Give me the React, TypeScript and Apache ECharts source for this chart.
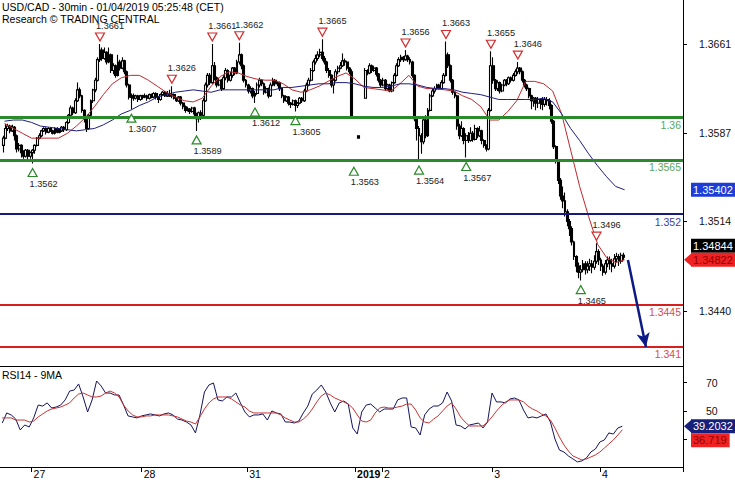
import React, { useEffect, useRef } from 'react';
import * as echarts from 'echarts';

const FONT = '"Liberation Sans", Arial, sans-serif';

// ---------- axes / time slots ----------
const SLOT_COUNT = 304; // half-hour slots spanning the plot width
const dayStartIndex = [14, 63, 110, 158, 170, 219, 267];
const dayLabels = ['27', '28', '31', '2019', '2', '3', '4'];
const boldLabels = ['2019'];
const priceTicks = [1.344, 1.3514, 1.3587, 1.3661];
const rsiTicks = [30, 50, 70];
const rsiTickLabels = [50, 70]; // 30 is hidden behind the value badges
const priceRange = [1.339424, 1.369742];
const rsiRange = [10.4, 81.8];

// ---------- 30-min candles [open, close, low, high] ----------
const candles: (number[] | null)[] = [
  null,
  [1.3577,1.3583,1.3571,1.3585],[1.3583,1.3591,1.3582,1.3595],[1.3591,1.3593,1.3589,1.3595],[1.3593,1.3589,1.3587,1.3594],
  [1.3589,1.3592,1.3588,1.3594],[1.3592,1.3585,1.3581,1.3593],[1.3585,1.3574,1.3571,1.3586],[1.3574,1.3577,1.3572,1.3579],
  [1.3577,1.3571,1.3567,1.3578],[1.3571,1.3568,1.3566,1.3573],[1.3568,1.3573,1.3567,1.3574],[1.3573,1.3568,1.3565,1.3574],
  [1.3568,1.3571,1.3566,1.3572],[1.3571,1.3573,1.3562,1.3574],[1.3573,1.3577,1.3570,1.3578],[1.3577,1.3583,1.3576,1.3584],
  [1.3583,1.3585,1.3582,1.3587],[1.3585,1.3589,1.3584,1.3590],[1.3589,1.3591,1.3588,1.3592],[1.3591,1.3588,1.3586,1.3592],
  [1.3588,1.3591,1.3587,1.3592],[1.3591,1.3589,1.3588,1.3592],[1.3589,1.3587,1.3586,1.3590],[1.3587,1.3591,1.3586,1.3592],
  [1.3591,1.3588,1.3587,1.3592],[1.3588,1.3589,1.3587,1.3591],[1.3589,1.3592,1.3588,1.3593],[1.3592,1.3590,1.3588,1.3593],
  [1.3590,1.3596,1.3589,1.3597],[1.3596,1.3602,1.3595,1.3603],[1.3602,1.3608,1.3601,1.3610],[1.3608,1.3604,1.3602,1.3609],
  [1.3604,1.3614,1.3603,1.3616],[1.3614,1.3623,1.3613,1.3629],[1.3623,1.3618,1.3616,1.3625],[1.3618,1.3606,1.3604,1.3619],
  [1.3606,1.3599,1.3596,1.3607],[1.3599,1.3591,1.3588,1.3600],[1.3591,1.3602,1.3590,1.3603],[1.3602,1.3614,1.3601,1.3615],
  [1.3614,1.3623,1.3612,1.3624],[1.3623,1.3631,1.3621,1.3633],[1.3631,1.3648,1.3630,1.3650],[1.3648,1.3656,1.3646,1.3661],
  [1.3656,1.3649,1.3647,1.3658],[1.3649,1.3654,1.3648,1.3658],[1.3654,1.3646,1.3644,1.3655],[1.3646,1.3652,1.3645,1.3658],
  [1.3652,1.3639,1.3637,1.3653],[1.3639,1.3643,1.3636,1.3645],[1.3643,1.3635,1.3633,1.3644],[1.3635,1.3646,1.3634,1.3652],
  [1.3646,1.3641,1.3639,1.3648],[1.3641,1.3647,1.3640,1.3650],[1.3647,1.3638,1.3636,1.3648],[1.3638,1.3627,1.3625,1.3639],
  [1.3627,1.3617,1.3615,1.3628],[1.3617,1.3618,1.3607,1.3620],[1.3618,1.3616,1.3614,1.3620],[1.3616,1.3618,1.3615,1.3619],
  [1.3618,1.3615,1.3613,1.3619],[1.3615,1.3618,1.3614,1.3619],[1.3618,1.3617,1.3615,1.3619],[1.3617,1.3618,1.3616,1.3620],
  [1.3618,1.3616,1.3614,1.3619],[1.3616,1.3619,1.3615,1.3620],[1.3619,1.3617,1.3616,1.3620],[1.3617,1.3620,1.3616,1.3621],
  [1.3620,1.3617,1.3615,1.3621],[1.3617,1.3615,1.3612,1.3618],[1.3615,1.3619,1.3614,1.3620],[1.3619,1.3621,1.3618,1.3622],
  [1.3621,1.3618,1.3617,1.3622],[1.3618,1.3620,1.3617,1.3622],[1.3620,1.3618,1.3617,1.3623],[1.3618,1.3619,1.3616,1.3626],
  [1.3619,1.3616,1.3615,1.3620],[1.3616,1.3614,1.3613,1.3617],[1.3614,1.3617,1.3613,1.3618],[1.3617,1.3612,1.3610,1.3618],
  [1.3612,1.3609,1.3607,1.3613],[1.3609,1.3606,1.3604,1.3610],[1.3606,1.3607,1.3605,1.3609],[1.3607,1.3605,1.3603,1.3608],
  [1.3605,1.3608,1.3604,1.3609],[1.3608,1.3603,1.3601,1.3609],[1.3603,1.3599,1.3589,1.3604],[1.3599,1.3604,1.3596,1.3605],
  [1.3604,1.3602,1.3598,1.3606],[1.3602,1.3614,1.3601,1.3616],[1.3614,1.3627,1.3613,1.3629],[1.3627,1.3635,1.3625,1.3637],
  [1.3635,1.3629,1.3627,1.3637],[1.3629,1.3643,1.3628,1.3661],[1.3643,1.3633,1.3631,1.3646],[1.3633,1.3627,1.3625,1.3634],
  [1.3627,1.3631,1.3626,1.3633],[1.3631,1.3624,1.3622,1.3632],[1.3624,1.3633,1.3623,1.3635],[1.3633,1.3639,1.3631,1.3641],
  [1.3639,1.3631,1.3629,1.3640],[1.3631,1.3635,1.3630,1.3638],[1.3635,1.3641,1.3633,1.3642],[1.3641,1.3637,1.3635,1.3642],
  [1.3637,1.3646,1.3636,1.3648],[1.3646,1.3652,1.3644,1.3662],[1.3652,1.3643,1.3640,1.3653],[1.3643,1.3631,1.3629,1.3644],
  [1.3631,1.3627,1.3625,1.3632],[1.3627,1.3622,1.3620,1.3628],[1.3622,1.3624,1.3620,1.3626],[1.3624,1.3618,1.3616,1.3625],
  [1.3618,1.3620,1.3612,1.3622],[1.3620,1.3627,1.3619,1.3629],[1.3627,1.3631,1.3625,1.3633],[1.3631,1.3628,1.3626,1.3632],
  [1.3628,1.3621,1.3619,1.3629],[1.3621,1.3624,1.3620,1.3626],[1.3624,1.3618,1.3616,1.3625],[1.3618,1.3627,1.3617,1.3629],
  [1.3627,1.3631,1.3626,1.3633],[1.3631,1.3628,1.3626,1.3632],[1.3628,1.3629,1.3626,1.3630],[1.3629,1.3624,1.3622,1.3630],
  [1.3624,1.3618,1.3616,1.3625],[1.3618,1.3614,1.3612,1.3619],[1.3614,1.3617,1.3613,1.3618],[1.3617,1.3612,1.3610,1.3618],
  [1.3612,1.3611,1.3608,1.3613],[1.3611,1.3614,1.3610,1.3615],[1.3614,1.3610,1.3605,1.3615],[1.3610,1.3612,1.3608,1.3613],
  [1.3612,1.3616,1.3611,1.3617],[1.3616,1.3614,1.3612,1.3617],[1.3614,1.3622,1.3613,1.3624],[1.3622,1.3627,1.3621,1.3629],
  [1.3627,1.3631,1.3626,1.3633],[1.3631,1.3639,1.3630,1.3641],[1.3639,1.3646,1.3638,1.3648],[1.3646,1.3649,1.3644,1.3652],
  [1.3649,1.3652,1.3647,1.3655],[1.3652,1.3654,1.3650,1.3657],[1.3654,1.3649,1.3647,1.3665],[1.3649,1.3646,1.3644,1.3651],
  [1.3646,1.3639,1.3637,1.3647],[1.3639,1.3635,1.3633,1.3641],[1.3635,1.3627,1.3625,1.3636],[1.3627,1.3631,1.3620,1.3632],
  [1.3631,1.3638,1.3630,1.3640],[1.3638,1.3641,1.3636,1.3643],[1.3641,1.3643,1.3640,1.3646],[1.3643,1.3647,1.3642,1.3653],
  [1.3647,1.3646,1.3643,1.3649],[1.3646,1.3641,1.3639,1.3647],[1.3641,1.3638,1.3636,1.3642],[1.3638,1.3601,1.3599,1.3640],
  null, null, [1.3585,1.3583,1.3583,1.3585], null, null,
  [1.3616,1.3639,1.3616,1.3641],[1.3639,1.3637,1.3635,1.3640],[1.3637,1.3643,1.3636,1.3645],[1.3643,1.3639,1.3637,1.3644],
  [1.3639,1.3641,1.3638,1.3643],[1.3641,1.3636,1.3634,1.3642],[1.3636,1.3631,1.3629,1.3637],[1.3631,1.3627,1.3625,1.3632],
  [1.3627,1.3631,1.3626,1.3633],[1.3631,1.3624,1.3622,1.3632],[1.3624,1.3627,1.3623,1.3628],[1.3627,1.3622,1.3621,1.3628],
  [1.3622,1.3629,1.3621,1.3630],[1.3629,1.3635,1.3628,1.3637],[1.3635,1.3643,1.3634,1.3645],[1.3643,1.3648,1.3642,1.3650],
  [1.3648,1.3650,1.3646,1.3652],[1.3650,1.3648,1.3646,1.3651],[1.3648,1.3651,1.3647,1.3656],[1.3651,1.3648,1.3646,1.3652],
  [1.3648,1.3646,1.3644,1.3650],[1.3646,1.3635,1.3633,1.3647],[1.3635,1.3599,1.3597,1.3636],[1.3599,1.3591,1.3581,1.3601],
  [1.3591,1.3585,1.3564,1.3593],[1.3585,1.3580,1.3570,1.3587],[1.3580,1.3598,1.3578,1.3600],[1.3598,1.3585,1.3583,1.3602],
  [1.3585,1.3606,1.3584,1.3608],[1.3606,1.3618,1.3605,1.3620],[1.3618,1.3622,1.3617,1.3624],[1.3622,1.3624,1.3620,1.3626],
  [1.3624,1.3627,1.3623,1.3628],[1.3627,1.3624,1.3623,1.3628],[1.3624,1.3629,1.3623,1.3631],[1.3629,1.3635,1.3628,1.3637],
  [1.3635,1.3652,1.3634,1.3663],[1.3652,1.3643,1.3641,1.3654],[1.3643,1.3631,1.3629,1.3644],[1.3631,1.3621,1.3619,1.3632],
  [1.3621,1.3618,1.3616,1.3622],[1.3618,1.3593,1.3590,1.3619],[1.3593,1.3585,1.3582,1.3595],[1.3585,1.3591,1.3584,1.3597],
  [1.3591,1.3581,1.3578,1.3592],[1.3581,1.3585,1.3567,1.3587],[1.3585,1.3581,1.3579,1.3588],[1.3581,1.3587,1.3580,1.3592],
  [1.3587,1.3582,1.3580,1.3589],[1.3582,1.3591,1.3581,1.3594],[1.3591,1.3585,1.3583,1.3592],[1.3585,1.3589,1.3584,1.3593],
  [1.3589,1.3581,1.3578,1.3590],[1.3581,1.3577,1.3575,1.3582],[1.3577,1.3574,1.3572,1.3578],[1.3574,1.3606,1.3573,1.3608],
  [1.3606,1.3643,1.3605,1.3655],[1.3643,1.3631,1.3628,1.3650],[1.3631,1.3624,1.3622,1.3632],[1.3624,1.3629,1.3622,1.3631],
  [1.3629,1.3622,1.3620,1.3630],[1.3622,1.3627,1.3621,1.3628],[1.3627,1.3631,1.3626,1.3632],[1.3631,1.3628,1.3626,1.3632],
  [1.3628,1.3633,1.3627,1.3634],[1.3633,1.3631,1.3629,1.3634],[1.3631,1.3635,1.3630,1.3637],[1.3635,1.3638,1.3634,1.3640],
  [1.3638,1.3641,1.3636,1.3646],[1.3641,1.3638,1.3636,1.3642],[1.3638,1.3631,1.3629,1.3639],[1.3631,1.3627,1.3625,1.3632],
  [1.3627,1.3624,1.3622,1.3628],[1.3624,1.3618,1.3616,1.3625],[1.3618,1.3614,1.3607,1.3619],[1.3614,1.3616,1.3609,1.3617],
  [1.3616,1.3612,1.3606,1.3617],[1.3612,1.3615,1.3608,1.3617],[1.3615,1.3614,1.3607,1.3616],[1.3614,1.3611,1.3606,1.3617],
  [1.3611,1.3615,1.3609,1.3617],[1.3615,1.3614,1.3610,1.3617],[1.3614,1.3610,1.3607,1.3616],[1.3610,1.3597,1.3595,1.3611],
  [1.3597,1.3576,1.3574,1.3598],[1.3576,1.3564,1.3562,1.3577],[1.3564,1.3548,1.3545,1.3565],[1.3548,1.3535,1.3532,1.3550],
  [1.3535,1.3531,1.3525,1.3543],[1.3531,1.3522,1.3518,1.3538],[1.3522,1.3514,1.3510,1.3524],[1.3514,1.3508,1.3502,1.3516],
  [1.3508,1.3497,1.3494,1.3510],[1.3497,1.3485,1.3482,1.3498],[1.3485,1.3477,1.3472,1.3486],[1.3477,1.3472,1.3467,1.3480],
  [1.3472,1.3474,1.3465,1.3478],[1.3474,1.3479,1.3472,1.3482],[1.3479,1.3474,1.3470,1.3481],[1.3474,1.3477,1.3471,1.3481],
  [1.3477,1.3479,1.3473,1.3483],[1.3479,1.3476,1.3471,1.3482],[1.3476,1.3481,1.3474,1.3486],[1.3481,1.3489,1.3479,1.3496],
  [1.3489,1.3482,1.3478,1.3491],[1.3482,1.3477,1.3473,1.3484],[1.3477,1.3472,1.3469,1.3479],[1.3472,1.3479,1.3470,1.3482],
  [1.3479,1.3482,1.3476,1.3485],[1.3482,1.3479,1.3474,1.3485],[1.3479,1.3477,1.3472,1.3483],[1.3477,1.3483,1.3475,1.3487],
  [1.3483,1.3485,1.3480,1.3488],[1.3485,1.3481,1.3477,1.3487],[1.3481,1.3486,1.3479,1.3488],[1.3486,1.34844,1.3482,1.3488],
];

// ---------- moving averages (2-hour samples) ----------
const maFast = [
  1.3595,1.3591,1.3587,1.3583,1.3583,1.3583,1.3583,1.3587,1.3593,1.3600,
  1.3609,1.3619,1.3628,1.3633,1.3635,1.3635,1.3631,1.3626,1.3621,1.3617,
  1.3614,1.3613,1.3616,1.3626,1.3634,1.3638,1.3637,1.3634,1.3632,1.3631,
  1.3631,1.3628,1.3623,1.3621,1.3623,1.3626,1.3630,1.3634,1.3637,1.3632,
  1.3625,1.3624,1.3623,1.3622,1.3628,1.3635,1.3626,1.3624,1.3624,1.3623,
  1.3622,1.3618,1.3615,1.3609,1.3598,1.3598,1.3605,1.3614,1.3630,1.3630,
  1.3628,1.3622,1.3603,1.3573,1.3543,1.3518,1.3495,1.3484,1.3480,1.34822,
];
const maSlow = [
  1.3597,1.3598,1.3598,1.3596,1.3593,1.3592,1.3591,1.3590,1.3589,1.3590,
  1.3591,1.3594,1.3598,1.3603,1.3606,1.3610,1.3613,1.3617,1.3619,1.3621,
  1.3622,1.3623,1.3622,1.3621,1.3623,1.3623,1.3623,1.3623,1.3623,1.3623,
  1.3623,1.3625,1.3625,1.3626,1.3627,1.3628,1.3628,1.3629,1.3629,1.3628,
  1.3626,1.3625,1.3625,1.3626,1.3628,1.3628,1.3627,1.3625,1.3624,1.3624,
  1.3623,1.3621,1.3620,1.3619,1.3617,1.3615,1.3615,1.3615,1.3615,1.3615,
  1.3616,1.3613,1.3603,1.3591,1.3581,1.3570,1.3560,1.3551,1.3543,1.35402,
];

// ---------- RSI14 and its 9MA (hourly samples) ----------
const rsi14 = [
  41.5,48.6,47.2,44.3,36.6,40.1,38.7,45.1,54.2,53.5,
  55.7,52.1,52.8,54.2,57.8,64.1,64.8,69.1,59.9,49.3,
  57.8,71.2,67.7,62.7,62.7,61.3,61.3,54.2,46.5,45.8,
  45.1,46.5,47.2,47.9,47.2,46.5,47.9,48.6,47.2,44.3,
  43.6,42.2,40.1,34.5,47.2,63.4,68.4,69.8,57.8,57.1,
  59.9,59.9,62.7,55.7,49.3,45.8,47.2,47.2,47.9,43.6,
  50.0,48.6,47.9,42.2,42.2,41.5,42.9,48.6,53.5,62.0,
  64.8,68.4,63.4,55.7,49.3,55.7,57.1,54.9,38.0,33.7,
  49.3,54.2,54.9,52.1,49.3,51.4,51.4,51.4,57.8,59.2,
  59.2,38.7,38.0,33.0,47.2,51.4,53.5,53.5,55.7,63.4,
  57.1,40.1,39.4,37.3,40.1,40.8,41.5,38.0,42.2,62.7,
  56.4,56.4,55.7,58.5,59.2,57.8,50.7,45.1,45.8,45.1,
  46.5,47.9,42.2,30.2,22.4,21.0,18.2,16.1,14.0,14.7,
  16.8,21.0,23.1,28.1,29.5,34.5,33.7,38.0,39.2032,
];
const rsiMa9 = [
  45.1,45.1,45.1,43.6,43.6,43.6,42.2,42.9,45.8,47.9,
  50.0,51.4,52.1,52.8,54.2,55.7,59.2,62.0,62.7,61.3,
  59.9,59.9,60.6,62.7,64.1,62.7,59.9,54.2,50.0,47.2,
  45.8,45.8,46.5,46.5,47.2,47.2,47.2,47.2,46.5,45.8,
  44.3,42.9,42.2,40.8,45.8,51.4,55.7,58.5,59.9,59.9,
  59.9,58.5,56.4,54.2,52.8,50.0,48.6,48.6,48.6,48.6,
  48.6,48.6,47.2,45.1,43.6,42.2,42.2,44.3,47.2,51.4,
  56.4,60.6,62.7,61.3,59.2,57.8,56.4,54.9,52.1,47.2,
  42.9,42.2,43.6,48.6,52.1,52.8,52.1,52.1,52.8,53.5,
  54.9,54.9,50.7,45.1,42.2,41.5,44.3,46.5,50.0,53.5,
  55.7,51.4,45.8,42.2,39.4,39.4,39.4,39.4,42.2,45.8,
  50.0,53.5,56.4,57.8,57.8,57.8,56.4,53.5,51.4,50.0,
  47.9,46.5,43.6,38.0,31.6,26.0,21.7,18.2,16.8,15.4,
  16.1,17.5,18.9,21.0,23.8,26.7,29.5,33.0,36.719,
];

// ---------- swing highs / lows [slot, price] ----------
const resistance = [
  [44, 1.3661], [76, 1.3626], [94, 1.3661], [106, 1.3662], [143, 1.3665],
  [180, 1.3656], [198, 1.3663], [218, 1.3655], [230, 1.3646], [265, 1.3496],
];
const support = [
  [14, 1.3562], [58, 1.3607], [87, 1.3589], [113, 1.3612], [131, 1.3605],
  [157, 1.3563], [186, 1.3564], [207, 1.3567], [258, 1.3465],
];

// ---------- key levels & forecast ----------
const levelValues = [1.36, 1.3565, 1.352, 1.3445, 1.341];
const levelLabels = ['1.36', '1.3565', '1.352', '1.3445', '1.341'];
const levelKinds = ['pivot', 'pivot', 'target1', 'target2', 'target2'];
const forecastFrom = [279, 1.3482];
const forecastTo = [287, 1.341];

const levelStyle: Record<string, { line: string; width: number; text: string }> = {
  pivot: { line: '#2b8a2b', width: 3, text: '#5aa55a' },
  target1: { line: '#141a80', width: 2, text: '#3c3ca8' },
  target2: { line: '#d91e1e', width: 2, text: '#e04848' },
};

const slots = Array.from({ length: SLOT_COUNT }, (_, i) => String(i));
const maSlots = Array.from({ length: SLOT_COUNT / 4 }, (_, i) => String(i));
const rsiSlots = Array.from({ length: SLOT_COUNT / 2 }, (_, i) => String(i));

const isDayStart = (i: number) => dayStartIndex.indexOf(i) >= 0;

export default function App() {
  const ref = useRef<HTMLDivElement>(null);

  useEffect(() => {
    document.body.style.margin = '0';
    if (!ref.current) return;
    const chart = echarts.init(ref.current, null, { renderer: 'svg' });

    const candleData = candles.map((c) => (c ? c : ['-', '-', '-', '-']));
    const lastCandle = candles[candles.length - 1] as number[];
    const lastClose = lastCandle[1];
    const lastFast = maFast[maFast.length - 1];
    const lastSlow = maSlow[maSlow.length - 1];
    const lastRsi = rsi14[rsi14.length - 1];
    const lastRsiMa = rsiMa9[rsiMa9.length - 1];

    const markData: any[] = levelValues.map((v, i) => {
      const st = levelStyle[levelKinds[i]];
      return {
        yAxis: v,
        lineStyle: { color: st.line, width: st.width, type: 'solid' },
        label: {
          show: true,
          position: 'insideEndBottom',
          formatter: levelLabels[i],
          color: st.text,
          fontSize: 10.5,
          fontFamily: FONT,
          distance: 2,
        },
      };
    });
    markData.push([
      { coord: forecastFrom, symbol: 'none', lineStyle: { color: '#0c1a86', width: 2.5, type: 'solid' }, label: { show: false } },
      { coord: forecastTo, symbol: 'arrow', symbolSize: [10, 14], lineStyle: { color: '#0c1a86', width: 2.5, type: 'solid' }, label: { show: false } },
    ]);

    const option: any = {
      animation: false,
      backgroundColor: '#ffffff',
      textStyle: { fontFamily: FONT },
      title: [
        {
          text: 'USD/CAD - 30min - 01/04/2019 05:25:48 (CET)',
          subtext: 'Research © TRADING CENTRAL',
          left: 2,
          top: 1,
          padding: 0,
          itemGap: 1,
          textStyle: { fontSize: 10.5, fontWeight: 'normal', color: '#000', fontFamily: FONT },
          subtextStyle: { fontSize: 10.5, color: '#000', fontFamily: FONT },
        },
        {
          text: 'RSI14 - 9MA',
          left: 2,
          top: 369,
          padding: 0,
          textStyle: { fontSize: 10.5, fontWeight: 'normal', color: '#000', fontFamily: FONT },
        },
      ],
      grid: [
        { left: 0, top: 0, width: 683, height: 366 },
        { left: 0, top: 366, width: 683, height: 101 },
      ],
      xAxis: [
        {
          type: 'category', gridIndex: 0, data: slots, boundaryGap: true,
          axisLine: { show: true, lineStyle: { color: '#000', width: 1 } },
          axisTick: { show: false }, axisLabel: { show: false }, splitLine: { show: false },
        },
        {
          type: 'category', gridIndex: 1, data: slots, boundaryGap: true,
          axisLine: { show: true, lineStyle: { color: '#000', width: 1 } },
          axisTick: { show: true, interval: (i: number) => isDayStart(i), length: 5, lineStyle: { color: '#000' } },
          axisLabel: {
            show: true,
            interval: (i: number) => isDayStart(i),
            align: 'left',
            margin: 1,
            padding: [0, 0, 0, 1],
            fontSize: 10.5,
            color: '#000',
            fontFamily: FONT,
            formatter: (_v: string, idx: number) => {
              const k = dayStartIndex.indexOf(idx);
              if (k < 0) return '';
              const t = dayLabels[k];
              return boldLabels.indexOf(t) >= 0 ? `{b|${t}}` : t;
            },
            rich: { b: { fontWeight: 'bold', fontSize: 10.5, color: '#000', fontFamily: FONT } },
          },
          splitLine: { show: false },
        },
        { type: 'category', gridIndex: 0, data: maSlots, show: false, boundaryGap: true },
        { type: 'category', gridIndex: 1, data: rsiSlots, show: false, boundaryGap: true },
      ],
      yAxis: [
        {
          type: 'value', gridIndex: 0, position: 'right', min: priceRange[0], max: priceRange[1], scale: true,
          axisLine: { show: true, lineStyle: { color: '#000', width: 1 } },
          axisTick: { show: true, length: 4, customValues: priceTicks, lineStyle: { color: '#000' } },
          axisLabel: {
            show: true, customValues: priceTicks, margin: 16, fontSize: 10.5, color: '#111', fontFamily: FONT,
            formatter: (v: number) => v.toFixed(4),
          },
          splitLine: { show: false },
        },
        {
          type: 'value', gridIndex: 1, position: 'right', min: rsiRange[0], max: rsiRange[1],
          axisLine: { show: true, lineStyle: { color: '#000', width: 1 } },
          axisTick: { show: true, length: 4, customValues: rsiTicks, lineStyle: { color: '#000' } },
          axisLabel: { show: true, customValues: rsiTickLabels, margin: 23, fontSize: 10.5, color: '#111', fontFamily: FONT },
          splitLine: { show: false },
        },
      ],
      series: [
        {
          type: 'candlestick', name: 'USD/CAD', xAxisIndex: 0, yAxisIndex: 0, data: candleData,
          barWidth: 2.4,
          itemStyle: {
            color: '#ffffff', color0: '#000000', borderColor: '#000000', borderColor0: '#000000',
            borderColorDoji: '#000000', borderWidth: 1.1,
          },
          markLine: { silent: true, symbol: 'none', precision: 5, animation: false, data: markData },
          z: 2,
        },
        {
          type: 'line', name: 'MA fast', xAxisIndex: 2, yAxisIndex: 0, data: maFast,
          symbol: 'none', lineStyle: { color: '#c0282d', width: 1 }, z: 3,
        },
        {
          type: 'line', name: 'MA slow', xAxisIndex: 2, yAxisIndex: 0, data: maSlow,
          symbol: 'none', lineStyle: { color: '#1d1d80', width: 1 }, z: 3,
        },
        {
          type: 'scatter', name: 'Resistance', xAxisIndex: 0, yAxisIndex: 0, data: resistance,
          symbol: 'path://M0,0L10,0L5,9Z', symbolSize: [9, 8], symbolOffset: [0, -7],
          itemStyle: { color: '#ffffff', borderColor: '#d42c2c', borderWidth: 1.2, opacity: 1 },
          label: {
            show: true, position: 'top', distance: 2, align: 'left', offset: [-4, 0],
            fontSize: 9.2, color: '#222', fontFamily: FONT,
            formatter: (p: any) => p.value[1].toFixed(4),
          },
          z: 5,
        },
        {
          type: 'scatter', name: 'Support', xAxisIndex: 0, yAxisIndex: 0, data: support,
          symbol: 'path://M5,0L10,9L0,9Z', symbolSize: [9, 8], symbolOffset: [0, 9],
          itemStyle: { color: '#ffffff', borderColor: '#2b8a2b', borderWidth: 1.2, opacity: 1 },
          label: {
            show: true, position: 'bottom', distance: 2, align: 'left', offset: [-3, 0],
            fontSize: 9.2, color: '#222', fontFamily: FONT,
            formatter: (p: any) => p.value[1].toFixed(4),
          },
          z: 5,
        },
        {
          type: 'line', name: 'RSI14', xAxisIndex: 3, yAxisIndex: 1, data: rsi14,
          symbol: 'none', lineStyle: { color: '#14145e', width: 1 }, z: 3,
        },
        {
          type: 'line', name: 'RSI 9MA', xAxisIndex: 3, yAxisIndex: 1, data: rsiMa9,
          symbol: 'none', lineStyle: { color: '#c83232', width: 1 }, z: 3,
        },
      ],
    };

    chart.setOption(option);

    const py = (v: number) => chart.convertToPixel({ yAxisIndex: 0 } as any, v) as unknown as number;
    const ry = (v: number) => chart.convertToPixel({ yAxisIndex: 1 } as any, v) as unknown as number;
    const H = 14;
    const yFast = py(lastFast);
    const yClose = Math.min(py(lastClose), yFast - H);
    const ySlow = py(lastSlow);
    const yRsi = ry(lastRsi);
    const yRsiMa = Math.max(ry(lastRsiMa), yRsi + H);

    const badge = (text: string, cy: number, bg: string, fg: string, arrow: boolean) => {
      const els: any[] = [];
      if (arrow) {
        els.push({
          type: 'polygon', z: 100,
          shape: { points: [[684, cy], [692, cy - 7], [692, cy + 7]] },
          style: { fill: bg },
        });
      }
      els.push({
        type: 'text', x: 691, y: cy, z: 101,
        style: {
          text, fill: fg, fontSize: 11, fontFamily: FONT, align: 'left', verticalAlign: 'middle',
          backgroundColor: bg, padding: [1, 3, 1, 2], lineHeight: 12,
        },
      });
      return els;
    };

    chart.setOption({
      graphic: [
        ...badge(lastSlow.toFixed(5), ySlow, '#1e3cd8', '#ffffff', false),
        ...badge(lastClose.toFixed(5), yClose, '#000000', '#ffffff', false),
        ...badge(lastFast.toFixed(5), yFast, '#ee2222', '#9a0000', true),
        ...badge(String(lastRsi), yRsi, '#16207a', '#ffffff', true),
        ...badge(String(lastRsiMa), yRsiMa, '#ee2222', '#9a0000', false),
      ],
    });

    return () => chart.dispose();
  }, []);

  return <div ref={ref} style={{ width: 735, height: 480 }} />;
}
